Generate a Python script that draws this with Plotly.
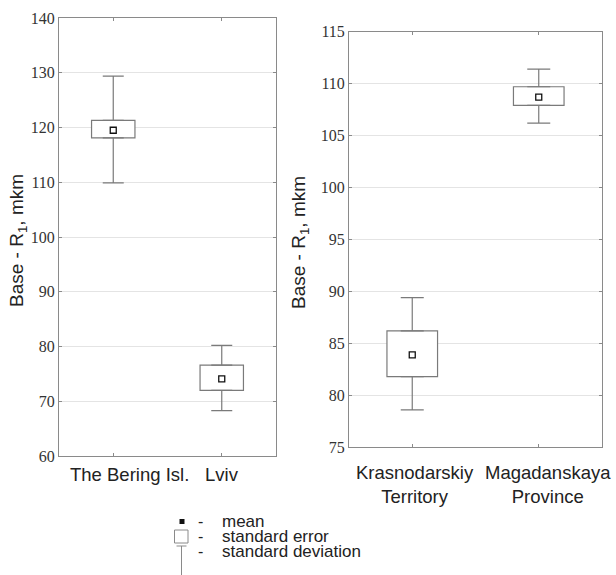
import plotly.graph_objects as go

# ---- data ----
left_cats = ["The Bering Isl.", "Lviv"]
left_mean = [119.5, 74.1]
left_se_low = [118.1, 72.0]
left_se_high = [121.3, 76.6]
left_sd_low = [109.9, 68.3]
left_sd_high = [129.4, 80.2]

right_cats = ["Krasnodarskiy Territory", "Magadanskaya Province"]
right_labels = ["Krasnodarskiy<br>Territory", "Magadanskaya<br>Province"]
right_mean = [83.9, 108.7]
right_se_low = [81.8, 107.9]
right_se_high = [86.2, 109.7]
right_sd_low = [78.6, 106.2]
right_sd_high = [89.4, 111.4]

left_ticks = [60, 70, 80, 90, 100, 110, 120, 130, 140]
right_ticks = [75, 80, 85, 90, 95, 100, 105, 110, 115]

legend_items = ["mean", "standard error", "standard deviation"]

W, H = 616, 575
BOX_LINE = "#7a7a7a"
FRAME = "#8a8a8a"
GRID = "#e4e4e4"
TXT = "#222222"
SERIF = "Liberation Serif, Times New Roman, serif"
SANS = "Liberation Sans, Arial, sans-serif"


def px_x(p):
    return p / W


def px_y(p):
    return 1 - p / H


fig = go.Figure()


def add_panel(cats, mean, se_lo, se_hi, sd_lo, sd_hi, xa, ya, cap):
    # standard-error box
    fig.add_trace(go.Bar(
        x=cats, y=[h - l for h, l in zip(se_hi, se_lo)], base=se_lo,
        width=0.4, marker=dict(color="white", line=dict(color=BOX_LINE, width=1.2)),
        showlegend=False, xaxis=xa, yaxis=ya, hoverinfo="skip",
    ))
    # standard-deviation whiskers (upper and lower)
    fig.add_trace(go.Scatter(
        x=cats, y=se_hi, mode="markers", marker=dict(size=0.1, color="rgba(0,0,0,0)"),
        error_y=dict(type="data", symmetric=False,
                     array=[u - h for u, h in zip(sd_hi, se_hi)],
                     arrayminus=[0] * len(cats),
                     color=BOX_LINE, thickness=1.2, width=cap),
        showlegend=False, xaxis=xa, yaxis=ya, hoverinfo="skip",
    ))
    fig.add_trace(go.Scatter(
        x=cats, y=se_lo, mode="markers", marker=dict(size=0.1, color="rgba(0,0,0,0)"),
        error_y=dict(type="data", symmetric=False,
                     array=[0] * len(cats),
                     arrayminus=[l - d for l, d in zip(se_lo, sd_lo)],
                     color=BOX_LINE, thickness=1.2, width=cap),
        showlegend=False, xaxis=xa, yaxis=ya, hoverinfo="skip",
    ))
    # mean marker
    fig.add_trace(go.Scatter(
        x=cats, y=mean, mode="markers", showlegend=False,
        marker=dict(symbol="square", size=6, color="white",
                    line=dict(color="#111111", width=1.3)),
        xaxis=xa, yaxis=ya,
    ))


add_panel(left_cats, left_mean, left_se_low, left_se_high,
          left_sd_low, left_sd_high, "x", "y", 10.5)
add_panel(right_cats, right_mean, right_se_low, right_se_high,
          right_sd_low, right_sd_high, "x2", "y2", 11.5)

xcommon = dict(type="category", range=[-0.5, 1.5], showticklabels=False,
               showline=True, linecolor=FRAME, linewidth=1, mirror="ticks",
               ticks="inside", ticklen=3, tickcolor=FRAME, showgrid=False,
               zeroline=False)
ycommon = dict(showline=True, linecolor=FRAME, linewidth=1, mirror="ticks",
               ticks="inside", ticklen=3, tickcolor=FRAME, showgrid=True,
               gridcolor=GRID, gridwidth=1, zeroline=False,
               tickfont=dict(family=SERIF, size=16, color="#333333"))

fig.update_layout(
    width=W, height=H, template="none",
    paper_bgcolor="white", plot_bgcolor="white",
    margin=dict(l=0, r=0, t=0, b=0),
    showlegend=False, barmode="overlay",
    xaxis=dict(domain=[px_x(59), px_x(276)], anchor="y", **xcommon),
    yaxis=dict(domain=[px_y(456), px_y(18)], anchor="x", range=[60, 140],
               tickvals=left_ticks, **ycommon),
    xaxis2=dict(domain=[px_x(349), px_x(602)], anchor="y2", **xcommon),
    yaxis2=dict(domain=[px_y(447.3), px_y(31.7)], anchor="x2", range=[75, 115],
                tickvals=right_ticks, **ycommon),
)

ann = []
title = "Base - R<sub>1</sub>, mkm"
ann.append(dict(text=title, textangle=-90, xref="paper", yref="paper",
                x=px_x(18), y=px_y(241), xanchor="center", yanchor="middle",
                showarrow=False, font=dict(family=SANS, size=19, color=TXT)))
ann.append(dict(text=title, textangle=-90, xref="paper", yref="paper",
                x=px_x(300), y=px_y(243), xanchor="center", yanchor="middle",
                showarrow=False, font=dict(family=SANS, size=19, color=TXT)))

# category labels
left_shift = [16, 0]
for c, s in zip(left_cats, left_shift):
    ann.append(dict(text=c, xref="x", yref="paper", x=c, y=px_y(474),
                    xshift=s, xanchor="center", yanchor="middle", showarrow=False,
                    font=dict(family=SANS, size=18.5, color=TXT)))
right_shift = [3, 9]
for c, lab, s in zip(right_cats, right_labels, right_shift):
    ann.append(dict(text=lab, xref="x2", yref="paper", x=c, y=px_y(484),
                    xshift=s, xanchor="center", yanchor="middle", showarrow=False,
                    font=dict(family=SANS, size=18.5, color=TXT)))

# legend explanation (bottom)
leg_y = [521, 536, 551]
for txt, yy in zip(legend_items, leg_y):
    ann.append(dict(text="-", xref="paper", yref="paper", x=px_x(200), y=px_y(yy),
                    xanchor="center", yanchor="middle", showarrow=False,
                    font=dict(family=SANS, size=16, color=TXT)))
    ann.append(dict(text=txt, xref="paper", yref="paper", x=px_x(220), y=px_y(yy),
                    xanchor="left", yanchor="middle", showarrow=False,
                    font=dict(family=SANS, size=17, color=TXT)))

shapes = [
    # mean symbol
    dict(type="rect", xref="paper", yref="paper", x0=px_x(179.5), x1=px_x(184.5),
         y0=px_y(524), y1=px_y(519), fillcolor="#111111", line=dict(width=0)),
    # standard error symbol
    dict(type="rect", xref="paper", yref="paper", x0=px_x(174.5), x1=px_x(188),
         y0=px_y(543), y1=px_y(530), fillcolor="white",
         line=dict(color=FRAME, width=1)),
    # standard deviation symbol
    dict(type="line", xref="paper", yref="paper", x0=px_x(176.5), x1=px_x(186.5),
         y0=px_y(546), y1=px_y(546), line=dict(color=FRAME, width=1)),
    dict(type="line", xref="paper", yref="paper", x0=px_x(181.5), x1=px_x(181.5),
         y0=px_y(546), y1=px_y(575), line=dict(color=FRAME, width=1)),
]

fig.update_layout(annotations=ann, shapes=shapes)
fig.write_html(
    "out.html",
    config={"displayModeBar": False},
    post_script="document.body.style.margin='0';document.body.style.overflow='hidden';",
)
